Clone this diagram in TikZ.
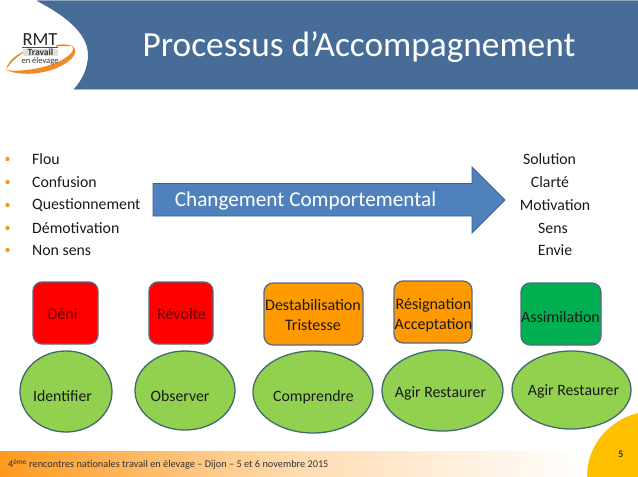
\documentclass[tikz,border=0pt]{standalone}
\usepackage{fontspec}
\setmainfont{Carlito}
\usetikzlibrary{shapes.geometric}
\definecolor{hdr}{HTML}{476C98}
\definecolor{gr}{HTML}{92D050}
\definecolor{grl}{HTML}{3F6B6B}
\definecolor{boxl}{HTML}{5A6A80}
\definecolor{org}{HTML}{FF9900}
\definecolor{grn}{HTML}{00B050}
\definecolor{arr}{HTML}{4F81BD}
\definecolor{arrl}{HTML}{3A6390}
\definecolor{ylw}{HTML}{FFC000}
\definecolor{foot}{HTML}{FF9A1E}
\definecolor{bul}{HTML}{F29A1F}
\definecolor{txt}{HTML}{1A1A1A}
\definecolor{swoosh}{HTML}{EE8A2A}
\tikzset{
 x=1pt,y=-1pt,
 rbox/.style={draw=boxl,line width=1.3pt,rounded corners=9pt,inner sep=0pt,outer sep=0pt},
 boxtext/.style={inner sep=0pt,font=\fontsize{16}{20}\selectfont,align=center,text=txt},
 ell/.style={ellipse,draw=grl,line width=1.3pt,fill=gr,inner sep=0pt,outer sep=0pt},
 elltext/.style={inner sep=0pt,font=\fontsize{15.8}{19}\selectfont,text=txt},
 listitem/.style={anchor=west,inner sep=0pt,font=\fontsize{15.8}{18}\selectfont,text=txt},
 rightitem/.style={inner sep=0pt,font=\fontsize{15.8}{18}\selectfont,text=txt},
 dot/.style={circle,fill=bul,minimum size=4.4pt,inner sep=0pt},
}
\begin{document}
\begin{tikzpicture}
\useasboundingbox (0,0) rectangle (638,477);
\fill[white] (0,0) rectangle (638,477);
% header
\fill[hdr!60!white] (37,0) rectangle (638,1.3);
\fill[hdr] (37,1) .. controls (62,14) and (88,32) .. (88,55) .. controls (88,68) and (82,80) .. (74,89) -- (638,89) -- (638,1) -- cycle;
\draw[hdr!50!white,line width=0.7pt] (74,89.3) -- (638,89.3);
\node[text=white,inner sep=0pt,font=\fontsize{35.3}{40}\selectfont] (title) at (359,47.5) {Processus d’Accompagnement};
% logo
\fill[swoosh] (6,70) .. controls (22,77) and (50,74) .. (66,63) .. controls (74,58) and (79,50) .. (72,46) .. controls (76,51) and (68,57) .. (58,62) .. controls (42,69) and (20,72) .. (6,70) -- cycle;
\fill[swoosh] (6,70) .. controls (8,60) and (18,53) .. (30,49) .. controls (20,54) and (11,61) .. (6,70) -- cycle;
\fill[swoosh] (56,45) .. controls (62,44) and (68,44) .. (72,46) .. controls (68,46) and (62,46) .. (56,46.5) -- cycle;
\fill[black!12] (23,49) rectangle (58,56);
\node[inner sep=0pt,font=\fontsize{18.5}{19}\selectfont,text=black!85] (rmt) at (40,39.5) {RMT};
\draw[black!70,line width=0.6pt] (22,47.5) -- (58,47.5);
\node[inner sep=0pt,font=\fontsize{9.5}{10}\selectfont\bfseries,text=black!80] (trav) at (40.5,52.5) {Travail};
\node[inner sep=0pt,font=\fontsize{8.5}{9}\selectfont,text=black!80] (elev) at (40,61.5) {en élevage};
% left list
\foreach \n/\y/\t in {a/159/Flou,b/182/Confusion,c/205/Questionnement,d/228/Démotivation,e/250/Non sens}{
 \node[dot] (bullet\n) at (7.5,\y) {};
 \node[listitem] (left\n) at (32,\y) {\t};
}
% right list
\node[rightitem] (ra) at (549.5,159) {Solution};
\node[rightitem] (rb) at (550,182) {Clarté};
\node[rightitem] (rc) at (555,205) {Motivation};
\node[rightitem] (rd) at (553,228) {Sens};
\node[rightitem] (re) at (555,250) {Envie};
% arrow
\draw[arrl,line width=0.9pt,fill=arr] (153,183.5) -- (472,183.5) -- (472,167) -- (505,200) -- (472,233) -- (472,216) -- (153,216) -- cycle;
\node[text=white,inner sep=0pt,font=\fontsize{21.2}{24}\selectfont] (chg) at (305.5,200.5) {Changement Comportemental};
% boxes
\node[rbox,fill=red,minimum width=65pt,minimum height=62pt] (deni) at (65.5,313) {};
\node[rbox,fill=red,minimum width=64pt,minimum height=62pt] (rev) at (181,313) {};
\node[rbox,fill=org,minimum width=99pt,minimum height=62pt] (des) at (313.5,314) {};
\node[rbox,fill=org,minimum width=78pt,minimum height=62pt] (res) at (433,312) {};
\node[rbox,fill=grn,minimum width=80pt,minimum height=62pt] (ass) at (561,314) {};
\node[boxtext,text=black!60!red] (denit) at (62.5,314) {Déni};
\node[boxtext,text=black!60!red] (revt) at (181.5,314) {Révolte};
\node[boxtext] (dest) at (313,314.5) {Destabilisation\\Tristesse};
\node[boxtext] (rest) at (433.5,315) {Résignation\\Acceptation};
\node[boxtext] (asst) at (560.5,317) {Assimilation};
% ellipses
\node[ell,minimum width=92pt,minimum height=81pt] (id) at (66,391.5) {};
\node[ell,minimum width=100pt,minimum height=79pt] (ob) at (185,390.5) {};
\node[ell,minimum width=120pt,minimum height=82pt] (co) at (313,392) {};
\node[ell,minimum width=121pt,minimum height=81pt] (ag) at (442.5,390.5) {};
\node[ell,minimum width=119pt,minimum height=78pt] (ah) at (571.5,390) {};
\node[elltext] (idt) at (62.5,396) {Identifier};
\node[elltext] (obt) at (180,396) {Observer};
\node[elltext] (cot) at (313.5,397) {Comprendre};
\node[elltext] (agt) at (440.5,393) {Agir Restaurer};
\node[elltext] (aht) at (573.5,391) {Agir Restaurer};
% corner
\fill[ylw] (638,413) .. controls (610,420) and (587,444) .. (587,477) -- (638,477) -- cycle;
% footer
\shade[left color=foot,right color=white,middle color=foot!35!white] (0,451) rectangle (587,476);
\node[anchor=west,inner sep=0pt,font=\fontsize{10.3}{12}\selectfont,text=black!80] (ft) at (8,464.5) {4\textsuperscript{ème} rencontres nationales travail en élevage – Dijon – 5 et 6 novembre 2015};
\node[inner sep=0pt,font=\fontsize{10}{12}\selectfont\bfseries,text=black!80] (pg) at (621,454) {5};
\end{tikzpicture}
\end{document}
